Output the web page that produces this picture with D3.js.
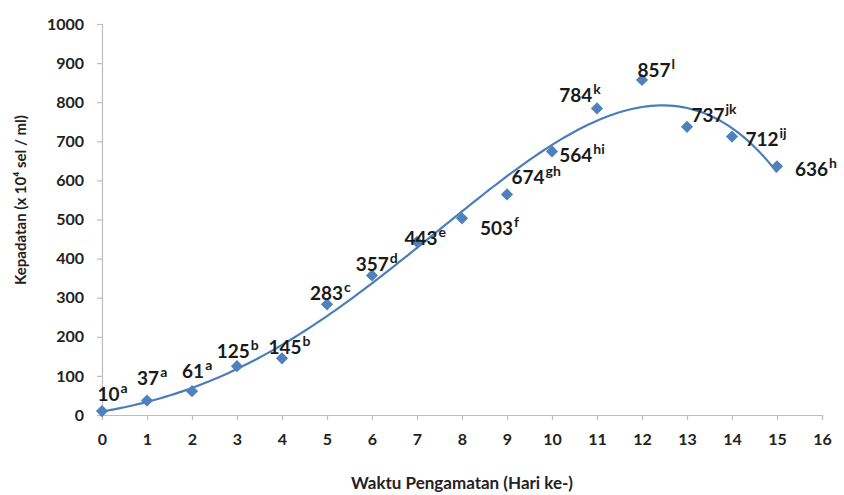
<!DOCTYPE html>
<html>
<head>
<meta charset="utf-8">
<script src="https://cdn.jsdelivr.net/npm/d3@7"></script>
<style>
  body { margin: 0; background: #fff; }
  svg { font-family: Lato, "Open Sans", sans-serif; }
</style>
</head>
<body>
<figure id="chart" style="margin:0"></figure>
<script>
// observation day and cell density
const days = [0, 1, 2, 3, 4, 5, 6, 7, 8, 9, 10, 11, 12, 13, 14, 15];
const density = [10, 37, 61, 125, 145, 283, 357, 443, 503, 564, 674, 784, 857, 737, 712, 636];
const labelText = ["10", "37", "61", "125", "145", "283", "357", "443", "503", "564", "674", "784", "857", "737", "712", "636"];
const labelSup = ["a", "a", "a", "b", "b", "c", "d", "e", "f", "hi", "gh", "k", "l", "jk", "ij", "h"];
// where each hand-placed label sits, in data units [day, density]
const labelDay = [-0.1, 0.78, 1.78, 2.55, 3.7, 4.62, 5.64, 6.72, 8.4, 10.16, 9.1, 10.16, 11.9, 13.1, 14.3, 15.4];
const labelDen = [37, 77, 95, 146, 157, 294, 368, 435, 461, 648, 590, 801, 865, 749, 687, 610];
const xTicks = d3.range(0, 17);
const yTicks = d3.range(0, 1001, 100);

const W = 844, H = 495;
const svg = d3.select("#chart").append("svg").attr("width", W).attr("height", H);

const x = d3.scaleLinear().domain([0, 16]).range([102, 822]);
const y = d3.scaleLinear().domain([0, 1000]).range([415, 24]);

// axes
const xAxis = svg.append("g")
  .attr("transform", "translate(0," + y(0) + ")")
  .call(d3.axisBottom(x).tickValues(xTicks).tickSize(5).tickPadding(14).tickFormat(d3.format("d")));
const yAxis = svg.append("g")
  .attr("transform", "translate(" + x(0) + ",0)")
  .call(d3.axisLeft(y).tickValues(yTicks).tickSize(5).tickPadding(13).tickFormat(d3.format("d")));
[xAxis, yAxis].forEach(g => {
  g.select(".domain").attr("stroke", "#bdbdbd").attr("stroke-width", 1.2);
  g.selectAll(".tick line").attr("stroke", "#bdbdbd").attr("stroke-width", 1.2);
  g.selectAll("text").attr("fill", "#222").style("font-size", "16px").style("font-weight", "bold")
    .style("font-family", "Lato, sans-serif");
});

// polynomial trendline (least squares, order 4)
function polyFit(xs, ys, order) {
  const n = order + 1;
  const A = [];
  for (let i = 0; i < n; i++) {
    A.push([]);
    for (let j = 0; j < n; j++) A[i].push(d3.sum(xs, v => Math.pow(v, i + j)));
    A[i].push(d3.sum(xs, (v, k) => Math.pow(v, i) * ys[k]));
  }
  for (let c = 0; c < n; c++) {
    let p = c;
    for (let r = c + 1; r < n; r++) if (Math.abs(A[r][c]) > Math.abs(A[p][c])) p = r;
    [A[c], A[p]] = [A[p], A[c]];
    for (let r = 0; r < n; r++) {
      if (r === c) continue;
      const f = A[r][c] / A[c][c];
      for (let k = c; k <= n; k++) A[r][k] -= f * A[c][k];
    }
  }
  return A.map((row, i) => row[n] / row[i]);
}
const coef = polyFit(days, density, 4);
const trend = d3.range(0, 15.001, 0.1).map(t => [t, coef.reduce((s, c, i) => s + c * Math.pow(t, i), 0)]);

svg.append("path")
  .datum(trend)
  .attr("fill", "none")
  .attr("stroke", "#4a7ebb")
  .attr("stroke-width", 2.2)
  .attr("d", d3.line().x(d => x(d[0])).y(d => y(d[1])));

// markers
svg.selectAll("path.pt")
  .data(days)
  .enter()
  .append("path")
  .attr("class", "pt")
  .attr("transform", (d, i) => "translate(" + x(d) + "," + y(density[i]) + ")")
  .attr("d", d3.symbol().type(d3.symbolDiamond2).size(95))
  .attr("fill", "#4f81bd");

// value labels with superscript letters
const lab = svg.selectAll("text.lab")
  .data(days)
  .enter()
  .append("text")
  .attr("class", "lab")
  .attr("x", (d, i) => x(labelDay[i]))
  .attr("y", (d, i) => y(labelDen[i]))
  .attr("fill", "#1a1a1a")
  .style("font-weight", "bold")
  .style("font-size", "19px");
lab.append("tspan").text((d, i) => labelText[i]);
lab.append("tspan").attr("dy", -8).attr("dx", 1).style("font-size", "14px").text((d, i) => labelSup[i]);

// axis titles
svg.append("text")
  .attr("x", 462)
  .attr("y", 489)
  .attr("text-anchor", "middle")
  .attr("fill", "#222")
  .style("font-weight", "bold")
  .style("font-size", "17px")
  .text("Waktu Pengamatan (Hari ke-)");

svg.append("text")
  .attr("transform", "translate(26,200) rotate(-90)")
  .attr("text-anchor", "middle")
  .attr("fill", "#222")
  .style("font-weight", "bold")
  .style("font-size", "15px")
  .text("Kepadatan (x 10\u2074 sel / ml)");
</script>
</body>
</html>
